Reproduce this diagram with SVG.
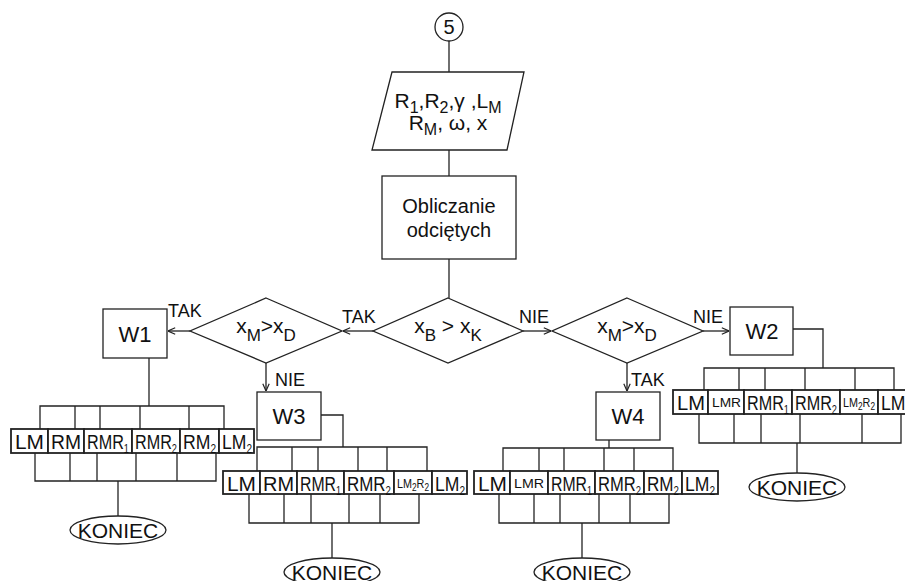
<svg xmlns="http://www.w3.org/2000/svg" width="905" height="581" viewBox="0 0 905 581">
<defs>
<style>
text{font-family:"Liberation Sans",Arial,sans-serif;fill:#111}
.ln{stroke:#222;stroke-width:1.3;fill:none}
.box{stroke:#222;stroke-width:1.3;fill:#fff}
.cell{stroke:#222;stroke-width:1.8;fill:#fff}
.lbl{font-size:18px}
.big{font-size:20px}
.ct{font-size:21px}
.sm{font-size:13px}
.arr{marker-end:url(#ah)}
</style>
<marker id="ah" viewBox="0 0 10 10" refX="10" refY="5" markerWidth="8" markerHeight="8" markerUnits="userSpaceOnUse" orient="auto">
<path d="M1,1 L10,5 L1,9" fill="none" stroke="#222" stroke-width="1.5"/>
</marker>
</defs>
<rect width="905" height="581" fill="#fff"/>

<g id="connectors">
<line class="ln" x1="449" y1="41" x2="449" y2="72"/>
<line class="ln" x1="449" y1="150" x2="449" y2="176"/>
<line class="ln" x1="449" y1="259" x2="449" y2="298"/>
<line class="ln arr" x1="373" y1="331" x2="343" y2="331"/>
<line class="ln arr" x1="190" y1="331" x2="168" y2="331"/>
<line class="ln arr" x1="266" y1="363" x2="266" y2="391"/>
<line class="ln arr" x1="523" y1="331" x2="551" y2="331"/>
<line class="ln arr" x1="703" y1="331" x2="729" y2="331"/>
<line class="ln arr" x1="627" y1="363" x2="627" y2="391"/>
<polyline class="ln" points="149,358 149,406"/>
<polyline class="ln" points="321,415 343,415 343,447"/>
<polyline class="ln" points="609,440 609,448"/>
<polyline class="ln" points="793,329 823,329 823,368"/>
<line class="ln" x1="118" y1="481" x2="118" y2="516"/>
<line class="ln" x1="332" y1="523" x2="332" y2="558"/>
<line class="ln" x1="582" y1="523" x2="582" y2="558"/>
<line class="ln" x1="797" y1="443" x2="797" y2="473"/>
<text class="lbl" x="342" y="323">TAK</text>
<text class="lbl" x="168" y="317">TAK</text>
<text class="lbl" x="275" y="386">NIE</text>
<text class="lbl" x="519" y="323">NIE</text>
<text class="lbl" x="693" y="323">NIE</text>
<text class="lbl" x="631" y="386">TAK</text>
</g>

<g id="start">
<circle cx="449" cy="27" r="14" class="box"/>
<text class="big" x="449" y="34" text-anchor="middle">5</text>
</g>

<g id="input">
<polygon class="box" points="392,72 524,72 507,150 372,150"/>
<text x="448" y="108" text-anchor="middle" font-size="21">R<tspan dy="5" font-size="16">1</tspan><tspan dy="-5">,R</tspan><tspan dy="5" font-size="16">2</tspan><tspan dy="-5">,γ ,L</tspan><tspan dy="5" font-size="16">M</tspan></text>
<text x="448" y="130" text-anchor="middle" font-size="21">R<tspan dy="5" font-size="16">M</tspan><tspan dy="-5">, ω, x</tspan></text>
</g>

<g id="calc">
<rect class="box" x="382" y="176" width="134" height="83"/>
<text class="big" x="449" y="213" text-anchor="middle">Obliczanie</text>
<text class="big" x="449" y="237" text-anchor="middle">odciętych</text>
</g>

<g id="d-center">
<polygon class="box" points="448,298 523,331 448,363 373,331"/>
<text x="448" y="333" text-anchor="middle" font-size="21">x<tspan dy="8" font-size="17">B</tspan><tspan dy="-8"> &gt; x</tspan><tspan dy="8" font-size="17">K</tspan></text>
</g>

<g id="d-left">
<polygon class="box" points="266,298 342,331 266,363 190,331"/>
<text x="266" y="333" text-anchor="middle" font-size="21">x<tspan dy="8" font-size="17">M</tspan><tspan dy="-8">&gt;x</tspan><tspan dy="8" font-size="17">D</tspan></text>
</g>

<g id="d-right">
<polygon class="box" points="627,298 703,331 627,363 552,331"/>
<text x="627" y="333" text-anchor="middle" font-size="21">x<tspan dy="8" font-size="17">M</tspan><tspan dy="-8">&gt;x</tspan><tspan dy="8" font-size="17">D</tspan></text>
</g>

<g id="W1">
<rect class="box" x="103" y="309" width="64" height="49"/>
<text x="135" y="342" text-anchor="middle" font-size="22">W1</text>
</g>
<g id="W2">
<rect class="box" x="730" y="307" width="63" height="48"/>
<text x="762" y="339" text-anchor="middle" font-size="22">W2</text>
</g>
<g id="W3">
<rect class="box" x="257" y="392" width="64" height="48"/>
<text x="289" y="424" text-anchor="middle" font-size="22">W3</text>
</g>
<g id="W4">
<rect class="box" x="596" y="392" width="64" height="48"/>
<text x="628" y="424" text-anchor="middle" font-size="22">W4</text>
</g>

<g id="table-W1">
<polyline class="ln" points="40,429 40,406 224,406 224,429"/>
<line class="ln" x1="75" y1="406" x2="75" y2="429"/>
<line class="ln" x1="100" y1="406" x2="100" y2="429"/>
<line class="ln" x1="140" y1="406" x2="140" y2="429"/>
<line class="ln" x1="189" y1="406" x2="189" y2="429"/>
<rect class="cell" x="11" y="429" width="37" height="24"/>
<rect class="cell" x="48" y="429" width="36" height="24"/>
<rect class="cell" x="84" y="429" width="48" height="24"/>
<rect class="cell" x="132" y="429" width="48" height="24"/>
<rect class="cell" x="180" y="429" width="39" height="24"/>
<rect class="cell" x="219" y="429" width="35" height="24"/>
<text class="ct" x="15" y="449" textLength="29" lengthAdjust="spacingAndGlyphs">LM</text>
<text class="ct" x="51" y="449" textLength="30" lengthAdjust="spacingAndGlyphs">RM</text>
<text class="ct" x="87" y="449" textLength="42" lengthAdjust="spacingAndGlyphs">RMR<tspan dy="4" font-size="12">1</tspan></text>
<text class="ct" x="135" y="449" textLength="42" lengthAdjust="spacingAndGlyphs">RMR<tspan dy="4" font-size="12">2</tspan></text>
<text class="ct" x="183" y="449" textLength="33" lengthAdjust="spacingAndGlyphs">RM<tspan dy="4" font-size="12">2</tspan></text>
<text class="ct" x="222" y="449" textLength="30" lengthAdjust="spacingAndGlyphs">LM<tspan dy="4" font-size="12">2</tspan></text>
<polyline class="ln" points="35,453 35,481 216,481 216,453"/>
<line class="ln" x1="70" y1="453" x2="70" y2="481"/>
<line class="ln" x1="97" y1="453" x2="97" y2="481"/>
<line class="ln" x1="136" y1="453" x2="136" y2="481"/>
<line class="ln" x1="177" y1="453" x2="177" y2="481"/>
</g>

<g id="table-W3">
<polyline class="ln" points="257,471 257,447 427,447 427,471"/>
<line class="ln" x1="292" y1="447" x2="292" y2="471"/>
<line class="ln" x1="318" y1="447" x2="318" y2="471"/>
<line class="ln" x1="358" y1="447" x2="358" y2="471"/>
<line class="ln" x1="387" y1="447" x2="387" y2="471"/>
<rect class="cell" x="223" y="471" width="37" height="23"/>
<rect class="cell" x="260" y="471" width="37" height="23"/>
<rect class="cell" x="297" y="471" width="47" height="23"/>
<rect class="cell" x="344" y="471" width="50" height="23"/>
<rect class="cell" x="394" y="471" width="38" height="23"/>
<rect class="cell" x="432" y="471" width="35" height="23"/>
<text class="ct" x="227" y="491" textLength="29" lengthAdjust="spacingAndGlyphs">LM</text>
<text class="ct" x="263" y="491" textLength="31" lengthAdjust="spacingAndGlyphs">RM</text>
<text class="ct" x="300" y="491" textLength="41" lengthAdjust="spacingAndGlyphs">RMR<tspan dy="4" font-size="12">1</tspan></text>
<text class="ct" x="347" y="491" textLength="44" lengthAdjust="spacingAndGlyphs">RMR<tspan dy="4" font-size="12">2</tspan></text>
<text class="sm" x="397" y="488" textLength="32" lengthAdjust="spacingAndGlyphs">LM<tspan dy="3" font-size="10">2</tspan><tspan dy="-3">R</tspan><tspan dy="3" font-size="10">2</tspan></text>
<text class="ct" x="435" y="491" textLength="30" lengthAdjust="spacingAndGlyphs">LM<tspan dy="4" font-size="12">2</tspan></text>
<polyline class="ln" points="249,494 249,523 419,523 419,494"/>
<line class="ln" x1="284" y1="494" x2="284" y2="523"/>
<line class="ln" x1="311" y1="494" x2="311" y2="523"/>
<line class="ln" x1="349" y1="494" x2="349" y2="523"/>
<line class="ln" x1="380" y1="494" x2="380" y2="523"/>
</g>

<g id="table-W4">
<polyline class="ln" points="503,471 503,448 673,448 673,471"/>
<line class="ln" x1="539" y1="448" x2="539" y2="471"/>
<line class="ln" x1="564" y1="448" x2="564" y2="471"/>
<line class="ln" x1="604" y1="448" x2="604" y2="471"/>
<line class="ln" x1="634" y1="448" x2="634" y2="471"/>
<rect class="cell" x="474" y="471" width="36" height="23"/>
<rect class="cell" x="510" y="471" width="38" height="23"/>
<rect class="cell" x="548" y="471" width="47" height="23"/>
<rect class="cell" x="595" y="471" width="49" height="23"/>
<rect class="cell" x="644" y="471" width="38" height="23"/>
<rect class="cell" x="682" y="471" width="36" height="23"/>
<text class="ct" x="478" y="491" textLength="29" lengthAdjust="spacingAndGlyphs">LM</text>
<text class="sm" x="514" y="488" textLength="30" lengthAdjust="spacingAndGlyphs">LMR</text>
<text class="ct" x="551" y="491" textLength="41" lengthAdjust="spacingAndGlyphs">RMR<tspan dy="4" font-size="12">1</tspan></text>
<text class="ct" x="598" y="491" textLength="43" lengthAdjust="spacingAndGlyphs">RMR<tspan dy="4" font-size="12">2</tspan></text>
<text class="ct" x="647" y="491" textLength="32" lengthAdjust="spacingAndGlyphs">RM<tspan dy="4" font-size="12">2</tspan></text>
<text class="ct" x="685" y="491" textLength="30" lengthAdjust="spacingAndGlyphs">LM<tspan dy="4" font-size="12">2</tspan></text>
<polyline class="ln" points="499,494 499,523 669,523 669,494"/>
<line class="ln" x1="534" y1="494" x2="534" y2="523"/>
<line class="ln" x1="560" y1="494" x2="560" y2="523"/>
<line class="ln" x1="599" y1="494" x2="599" y2="523"/>
<line class="ln" x1="630" y1="494" x2="630" y2="523"/>
</g>

<g id="table-W2">
<polyline class="ln" points="704,390 704,368 894,368 894,390"/>
<line class="ln" x1="739" y1="368" x2="739" y2="390"/>
<line class="ln" x1="765" y1="368" x2="765" y2="390"/>
<line class="ln" x1="805" y1="368" x2="805" y2="390"/>
<line class="ln" x1="855" y1="368" x2="855" y2="390"/>
<rect class="cell" x="673" y="390" width="35" height="24"/>
<rect class="cell" x="708" y="390" width="36" height="24"/>
<rect class="cell" x="744" y="390" width="48" height="24"/>
<rect class="cell" x="792" y="390" width="48" height="24"/>
<rect class="cell" x="840" y="390" width="38" height="24"/>
<rect class="cell" x="878" y="390" width="35" height="24"/>
<text class="ct" x="677" y="410" textLength="28" lengthAdjust="spacingAndGlyphs">LM</text>
<text class="sm" x="712" y="407" textLength="29" lengthAdjust="spacingAndGlyphs">LMR</text>
<text class="ct" x="747" y="410" textLength="42" lengthAdjust="spacingAndGlyphs">RMR<tspan dy="4" font-size="12">1</tspan></text>
<text class="ct" x="795" y="410" textLength="42" lengthAdjust="spacingAndGlyphs">RMR<tspan dy="4" font-size="12">2</tspan></text>
<text class="sm" x="843" y="407" textLength="32" lengthAdjust="spacingAndGlyphs">LM<tspan dy="3" font-size="10">2</tspan><tspan dy="-3">R</tspan><tspan dy="3" font-size="10">2</tspan></text>
<text class="ct" x="881" y="410" textLength="30" lengthAdjust="spacingAndGlyphs">LM<tspan dy="4" font-size="12">2</tspan></text>
<polyline class="ln" points="699,414 699,443 901,443 901,414"/>
<line class="ln" x1="734" y1="414" x2="734" y2="443"/>
<line class="ln" x1="761" y1="414" x2="761" y2="443"/>
<line class="ln" x1="800" y1="414" x2="800" y2="443"/>
<line class="ln" x1="862" y1="414" x2="862" y2="443"/>
</g>

<g id="end-W1">
<ellipse class="box" cx="118" cy="530" rx="48" ry="14"/>
<text x="118" y="538" text-anchor="middle" font-size="21">KONIEC</text>
</g>
<g id="end-W3">
<ellipse class="box" cx="332" cy="572" rx="48" ry="14"/>
<text x="332" y="580" text-anchor="middle" font-size="21">KONIEC</text>
</g>
<g id="end-W4">
<ellipse class="box" cx="582" cy="572" rx="48" ry="14"/>
<text x="582" y="580" text-anchor="middle" font-size="21">KONIEC</text>
</g>
<g id="end-W2">
<ellipse class="box" cx="797" cy="487" rx="48" ry="14"/>
<text x="797" y="495" text-anchor="middle" font-size="21">KONIEC</text>
</g>
</svg>
